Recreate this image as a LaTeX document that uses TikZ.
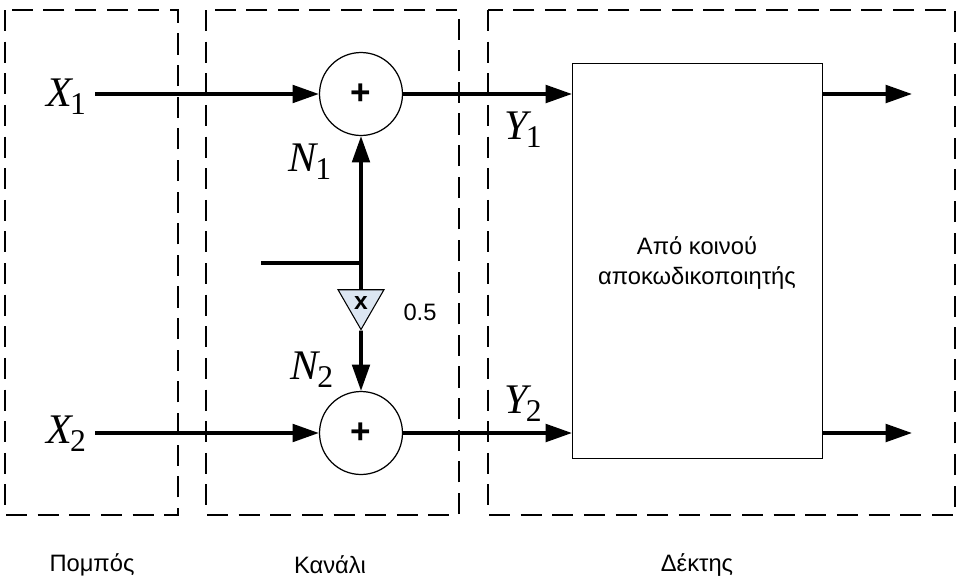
\documentclass[tikz,border=0pt]{standalone}
\usepackage{fontspec}
\setmainfont{Liberation Sans}
\newfontfamily\symfont{Liberation Serif}
\usetikzlibrary{arrows.meta,positioning,shapes.geometric}
\definecolor{ampfill}{HTML}{DCE6F2}
\newcommand{\sym}[2]{{\symfont\fontsize{24}{24}\selectfont\itshape #1\kern-1pt\raisebox{-0.4ex}{\upshape\fontsize{18}{18}\selectfont #2}}}
\tikzset{
  sig/.style={line width=2pt,-{Triangle[length=15pt,width=10pt]}},
  wire/.style={line width=2pt},
  zone/.style={draw,line width=0.7pt,dash pattern=on 12pt off 6pt},
  adder/.style={circle,draw,line width=0.7pt,minimum size=1.66cm,inner sep=0pt,
    font=\bfseries\fontsize{20}{20}\selectfont},
  gain/.style={regular polygon,regular polygon sides=3,shape border rotate=180,
    draw,fill=ampfill,line width=0.6pt,minimum size=1.06cm,inner sep=0pt,
    font=\bfseries\fontsize{14}{14}\selectfont},
  txt/.style={font=\fontsize{13.5}{17}\selectfont,align=center}
}
\begin{document}
\begin{tikzpicture}[x=0.02cm,y=-0.02cm]
\useasboundingbox (0,0) rectangle (957,582);

\draw[zone] (5,10) rectangle (178,515);
\draw[zone] (206,10) rectangle (459,515);
\draw[zone] (488,10) rectangle (955,515);

\node[txt] (tx) at (92,565) {Πομπός};
\node[txt] (ch) at (330,565) {Κανάλι};
\node[txt] (rxl) at (697,565) {Δέκτης};

\node[adder] (a1) at (361,94) {+};
\node[adder] (a2) at (361,433) {+};
\node[draw,line width=0.7pt,minimum width=5cm,minimum height=7.9cm,inner sep=0pt,
  anchor=north west] (rx) at (572,63) {};
\node[txt] (rxt) at (697,263) {Από κοινού\\αποκωδικοποιητής};

\coordinate (x1) at (95,94);
\coordinate (x2) at (95,433);
\node (x1l) at (66,97) {\sym{X}{1}};
\node (x2l) at (66,434) {\sym{X}{2}};

\draw[sig] (x1) -- (a1);
\draw[sig] (x2) -- (a2);
\draw[sig] (a1.east) -- (a1.east -| rx.west);
\draw[sig] (a2.east) -- (a2.east -| rx.west);
\node (y1l) at (523,130) {\sym{Y}{1}};
\node (y2l) at (523,404) {\sym{Y}{2}};

\coordinate (o1) at (912,94);
\coordinate (o2) at (912,433);
\draw[sig] (o1 -| rx.east) -- (o1);
\draw[sig] (o2 -| rx.east) -- (o2);

\coordinate (junc) at (361,263);
\coordinate (nstub) at (261,263);
\node[gain] (amp) at (361,303) {x};
\node[txt] (gl) at (420,312) {0.5};
\draw[wire] (nstub) -- (junc);
\draw[sig] (junc) -- (a1);
\draw[wire] (junc) -- (amp);
\draw[sig] (amp) -- (a2);
\node (n1l) at (310,162) {\sym{N}{1}};
\node (n2l) at (312,370) {\sym{N}{2}};
\end{tikzpicture}
\end{document}
